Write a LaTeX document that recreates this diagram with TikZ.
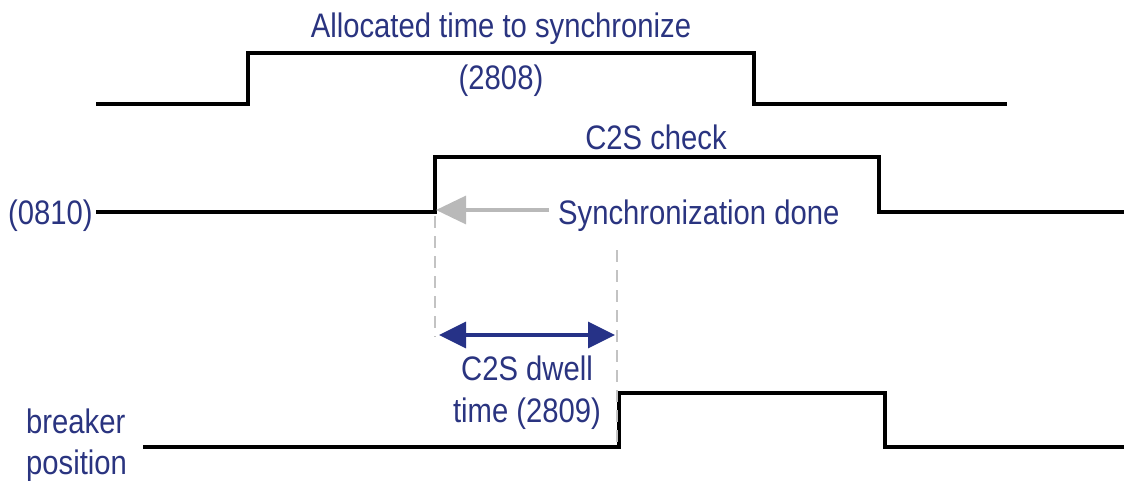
\documentclass[tikz,border=0pt]{standalone}
\usepackage{fontspec}
\setmainfont[FakeStretch=0.86]{Liberation Sans}
\usetikzlibrary{arrows.meta}
\definecolor{txtblue}{RGB}{42,52,128}
\definecolor{arrblue}{RGB}{38,50,135}
\definecolor{arrgray}{RGB}{185,185,185}
\definecolor{dashgray}{RGB}{195,195,195}
\begin{document}
\begin{tikzpicture}[x=1pt,y=-1pt,
  lbl/.style={text=txtblue,font=\fontsize{34}{38}\selectfont,inner sep=0pt,anchor=base},
  sig/.style={line width=3.2pt,line cap=rect,line join=miter,black},
  guide/.style={line width=2.8pt,dashgray,dash pattern=on 12pt off 8pt},
  graybar/.style={line width=3.2pt,arrgray,-{Triangle[length=30pt,width=28pt]}},
  dwell/.style={line width=3.2pt,arrblue,{Triangle[length=27pt,width=26pt]}-{Triangle[length=27pt,width=26pt]}}]
\useasboundingbox (0,0) rectangle (1124,481);
% texts
\node[lbl] (alloc) at (501,38) {Allocated time to synchronize};
\node[lbl] (n2808) at (501,90) {(2808)};
\node[lbl] (c2s) at (656,150) {C2S check};
\node[lbl,anchor=base west] (n0810) at (8,224) {(0810)};
\node[lbl,anchor=base west] (sync) at (558,224) {Synchronization done};
\node[lbl] (dw1) at (527,380) {C2S dwell};
\node[lbl] (dw2) at (527,422) {time (2809)};
\node[lbl,anchor=base west] (brk) at (26,433) {breaker};
\node[lbl,anchor=base west] (pos) at (26,474) {position};
% signal 1
\draw[sig] (98,104) -- (248,104) -- (248,53) -- (754,53) -- (754,104) -- (1005,104);
% signal 2
\coordinate (s2a) at (98,212);
\coordinate (s2up) at (435,212);
\draw[sig] (s2a) -- (s2up) -- (435,157) -- (879,157) -- (879,212) -- (1124,212);
% breaker
\coordinate (b0) at (145,447);
\coordinate (bup) at (619,447);
\draw[sig] (b0) -- (bup) -- (619,393) -- (885,393) -- (885,447) -- (1124,447);
% dashed guides
\coordinate (g1b) at (435,337);
\coordinate (g2t) at (617,250);
\coordinate (g2b) at (617,447);
\draw[guide] (435,216) -- (g1b);
\draw[guide] (g2t) -- (g2b);
% gray arrow
\coordinate (gs) at (549,210);
\coordinate (gt) at (436,210);
\draw[graybar] (gs) -- (gt);
% dwell arrow
\coordinate (da) at (439,335);
\coordinate (db) at (615,335);
\draw[dwell] (da) -- (db);
\end{tikzpicture}
\end{document}
